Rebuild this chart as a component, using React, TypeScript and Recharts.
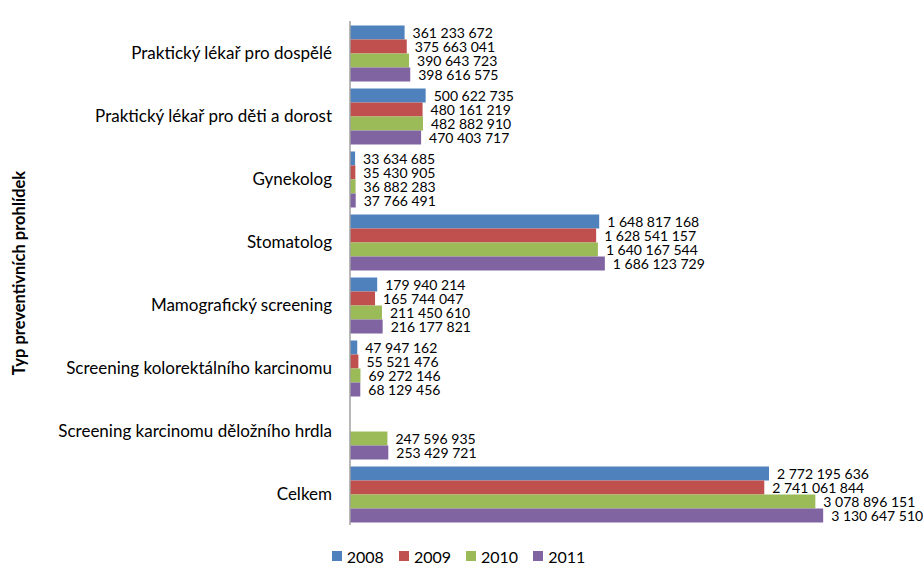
import React from 'react';
import { BarChart, Bar, XAxis, YAxis, LabelList, Legend } from 'recharts';

const categories = [
  'Praktický lékař pro dospělé',
  'Praktický lékař pro děti a dorost',
  'Gynekolog',
  'Stomatolog',
  'Mamografický screening',
  'Screening kolorektálního karcinomu',
  'Screening karcinomu děložního hrdla',
  'Celkem',
];
const values2008: (number | null)[] = [361233672, 500622735, 33634685, 1648817168, 179940214, 47947162, null, 2772195636];
const values2009: (number | null)[] = [375663041, 480161219, 35430905, 1628541157, 165744047, 55521476, null, 2741061844];
const values2010: (number | null)[] = [390643723, 482882910, 36882283, 1640167544, 211450610, 69272146, 247596935, 3078896151];
const values2011: (number | null)[] = [398616575, 470403717, 37766491, 1686123729, 216177821, 68129456, 253429721, 3130647510];
const seriesNames = ['2008', '2009', '2010', '2011'];
const colors = ['#4F81BD', '#C0504D', '#9BBB59', '#8064A2'];
const axisTitle = 'Typ preventivních prohlídek';

const data = categories.map((name, i) => ({
  name,
  s2008: values2008[i],
  s2009: values2009[i],
  s2010: values2010[i],
  s2011: values2011[i],
}));
const keys = ['s2008', 's2009', 's2010', 's2011'];

const fmt = (v: any) => {
  if (v === null || v === undefined || v === '') return '';
  return String(Math.round(Number(v))).replace(/\B(?=(\d{3})+(?!\d))/g, ' ');
};

const FONT = 'Lato, "Open Sans", sans-serif';

const ValueLabel = (props: any) => {
  const { x, y, width, height, value } = props;
  if (value === null || value === undefined) return null;
  return (
    <text
      x={Number(x) + Number(width) + 8}
      y={Number(y) + Number(height) / 2}
      dominantBaseline="central"
      fill="#000"
      fontSize={14}
      fontFamily={FONT}
    >
      {fmt(value)}
    </text>
  );
};

const LegendContent = () => (
  <div style={{ display: 'flex', justifyContent: 'center', alignItems: 'center', height: 20, fontFamily: FONT, fontSize: 16, color: '#000', paddingRight: 6, boxSizing: 'border-box' }}>
    {seriesNames.map((n, i) => (
      <div key={n} style={{ display: 'flex', alignItems: 'center', marginRight: i < seriesNames.length - 1 ? 15 : 0 }}>
        <div style={{ width: 10, height: 10, background: colors[i], marginRight: 5 }} />
        <span>{n}</span>
      </div>
    ))}
  </div>
);

export default function App() {
  return (
    <div style={{ position: 'absolute', left: 0, top: 0, background: '#fff' }}>
      <BarChart
        width={923}
        height={565}
        data={data}
        layout="vertical"
        margin={{ top: 21, right: 44, bottom: 20, left: 0 }}
        barCategoryGap={4.5}
        barGap={0}
      >
        <XAxis type="number" domain={[0, 3500000000]} hide />
        <YAxis
          type="category"
          dataKey="name"
          width={350}
          interval={0}
          tickLine={false}
          tickSize={6}
          tickMargin={12}
          axisLine={{ stroke: '#A0A0A0', strokeWidth: 1.5 }}
          tick={{ fill: '#000', fontSize: 17, fontFamily: FONT }}
          label={{
            value: axisTitle,
            angle: -90,
            position: 'insideLeft',
            offset: 19,
            style: { textAnchor: 'middle', fontWeight: 'bold', fontSize: 16.5, fontFamily: FONT, fill: '#000' },
          }}
        />
        <Legend
          verticalAlign="bottom"
          height={20}
          content={<LegendContent />}
          wrapperStyle={{ top: 546, bottom: 'auto', left: 0, width: 923 }}
        />
        {keys.map((k, i) => (
          <Bar key={k} dataKey={k} name={seriesNames[i]} fill={colors[i]} isAnimationActive={false}>
            <LabelList dataKey={k} content={<ValueLabel />} />
          </Bar>
        ))}
      </BarChart>
    </div>
  );
}
